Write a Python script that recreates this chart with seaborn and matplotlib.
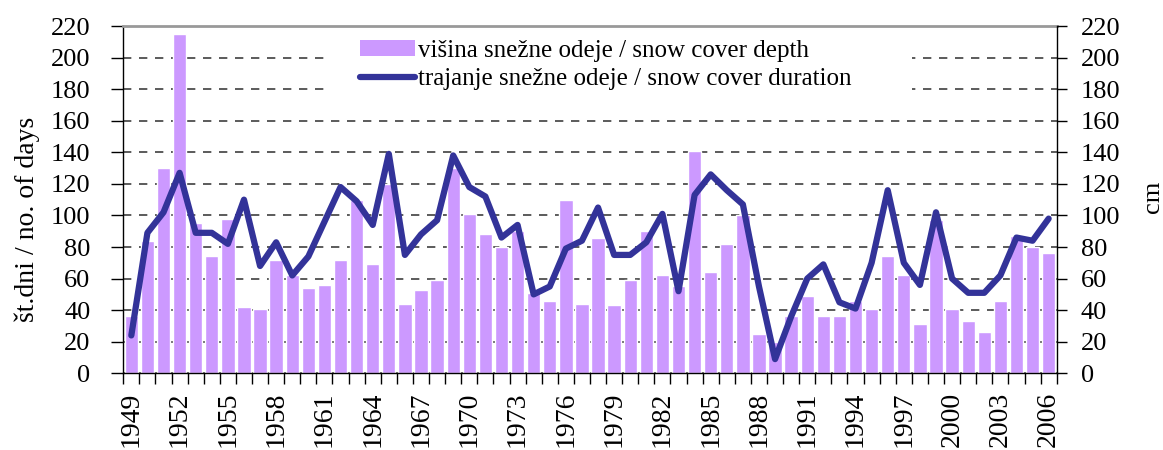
import numpy as np
import pandas as pd
import seaborn as sns
import matplotlib.pyplot as plt
from matplotlib.patches import Rectangle, Patch
from matplotlib.lines import Line2D

years = list(range(1949, 2007))
depth_cm = [36, 84, 130, 215, 95, 74, 98, 42, 41, 72,
            62, 54, 56, 72, 110, 69, 120, 44, 53, 59,
            130, 101, 88, 80, 90, 51, 46, 110, 44, 86,
            43, 59, 90, 62, 55, 141, 64, 82, 100, 25,
            20, 36, 49, 36, 36, 46, 41, 74, 62, 31,
            97, 41, 33, 26, 46, 87, 80, 76]
duration_days = [24, 89, 102, 127, 89, 89, 82, 110, 68, 83,
                 62, 74, 96, 118, 109, 94, 139, 75, 88, 97,
                 138, 118, 112, 86, 94, 50, 55, 79, 84, 105,
                 75, 75, 83, 101, 52, 113, 126, 116, 107, 55,
                 9, 36, 60, 69, 45, 41, 70, 116, 70, 56,
                 102, 60, 51, 51, 62, 86, 84, 98]
tick_years = years[::3]
label_depth = "višina snežne odeje / snow cover depth"
label_duration = "trajanje snežne odeje / snow cover duration"

bar_color = "#CC99FF"
line_color = "#333399"

sns.set_style("ticks")
plt.rcParams["font.family"] = ["Liberation Serif", "DejaVu Serif"]
plt.rcParams["text.color"] = "black"
plt.rcParams["xtick.color"] = "black"
plt.rcParams["ytick.color"] = "black"
plt.rcParams["axes.labelcolor"] = "black"

df = pd.DataFrame({"year": years, "depth": depth_cm, "duration": duration_days})
df["pos"] = np.arange(len(df))

fig = plt.figure(figsize=(11.63, 4.5), dpi=100)
ax = fig.add_axes([0.106, 0.1704, 0.8026, 0.7718])
ax.set_axisbelow(True)
ax.yaxis.grid(True, color="#404040", linestyle=(0, (5.0, 4.6)), linewidth=1.2)
ax.xaxis.grid(False)

# white area behind the legend hides the gridlines there
ax.add_patch(Rectangle((327 / 1163, 1 - 108 / 450), (912 - 327) / 1163, (108 - 26) / 450,
                       transform=fig.transFigure, facecolor="white", edgecolor="none", zorder=0.8))

sns.barplot(data=df, x="pos", y="depth", color=bar_color, saturation=1, width=0.83,
            native_scale=True, ax=ax, zorder=2)
sns.lineplot(data=df, x="pos", y="duration", color=line_color, linewidth=4.5, ax=ax, zorder=3)

ax.set_xlim(-0.5, len(years) - 0.5)
ax.set_ylim(0, 220)
ax.set_yticks(range(0, 221, 20))
ax.set_xticks([years.index(y) for y in tick_years])
ax.set_xticklabels([str(y) for y in tick_years], rotation=90, fontsize=20)
ax.set_xticks(np.arange(-0.5, len(years), 1), minor=True)
ax.tick_params(axis="x", which="major", length=0, pad=13)
ax.tick_params(axis="x", which="minor", length=7.7, width=1, direction="out", color="black")
ax.tick_params(axis="y", length=8.6, width=1, direction="out", pad=15, labelsize=19, color="black")
ax.set_xlabel("")
ax.set_ylabel("")

for side in ["left", "bottom"]:
    ax.spines[side].set_color("black")
    ax.spines[side].set_linewidth(1.0)
ax.spines["top"].set_visible(True)
ax.spines["top"].set_color("#999999")
ax.spines["top"].set_linewidth(2)
ax.spines["right"].set_visible(False)

ax2 = ax.twinx()
ax2.set_ylim(0, 220)
ax2.set_yticks(range(0, 221, 20))
ax2.tick_params(axis="y", length=7.2, width=1, direction="out", pad=10, labelsize=19, color="black")
for side in ["left", "bottom", "top"]:
    ax2.spines[side].set_visible(False)
ax2.spines["right"].set_visible(True)
ax2.spines["right"].set_color("black")
ax2.spines["right"].set_linewidth(1.0)

handles = [Patch(facecolor=bar_color, edgecolor="none"),
           Line2D([], [], color=line_color, linewidth=4.5)]
ax.legend(handles, [label_depth, label_duration], loc="upper left",
          bbox_to_anchor=(360 / 1163, 1 - 40 / 450), bbox_transform=fig.transFigure,
          frameon=False, borderpad=0, borderaxespad=0, handlelength=2.2, handleheight=0.6,
          handletextpad=0.1, labelspacing=0.25, fontsize=18)

fig.text(27 / 1163, 1 - 219 / 450, "št.dni / no. of days", rotation=90,
         ha="center", va="center", fontsize=20)
fig.text(1153 / 1163, 1 - 197 / 450, "cm", rotation=90, ha="center", va="center", fontsize=19)

fig.savefig("out.png", dpi=100)
